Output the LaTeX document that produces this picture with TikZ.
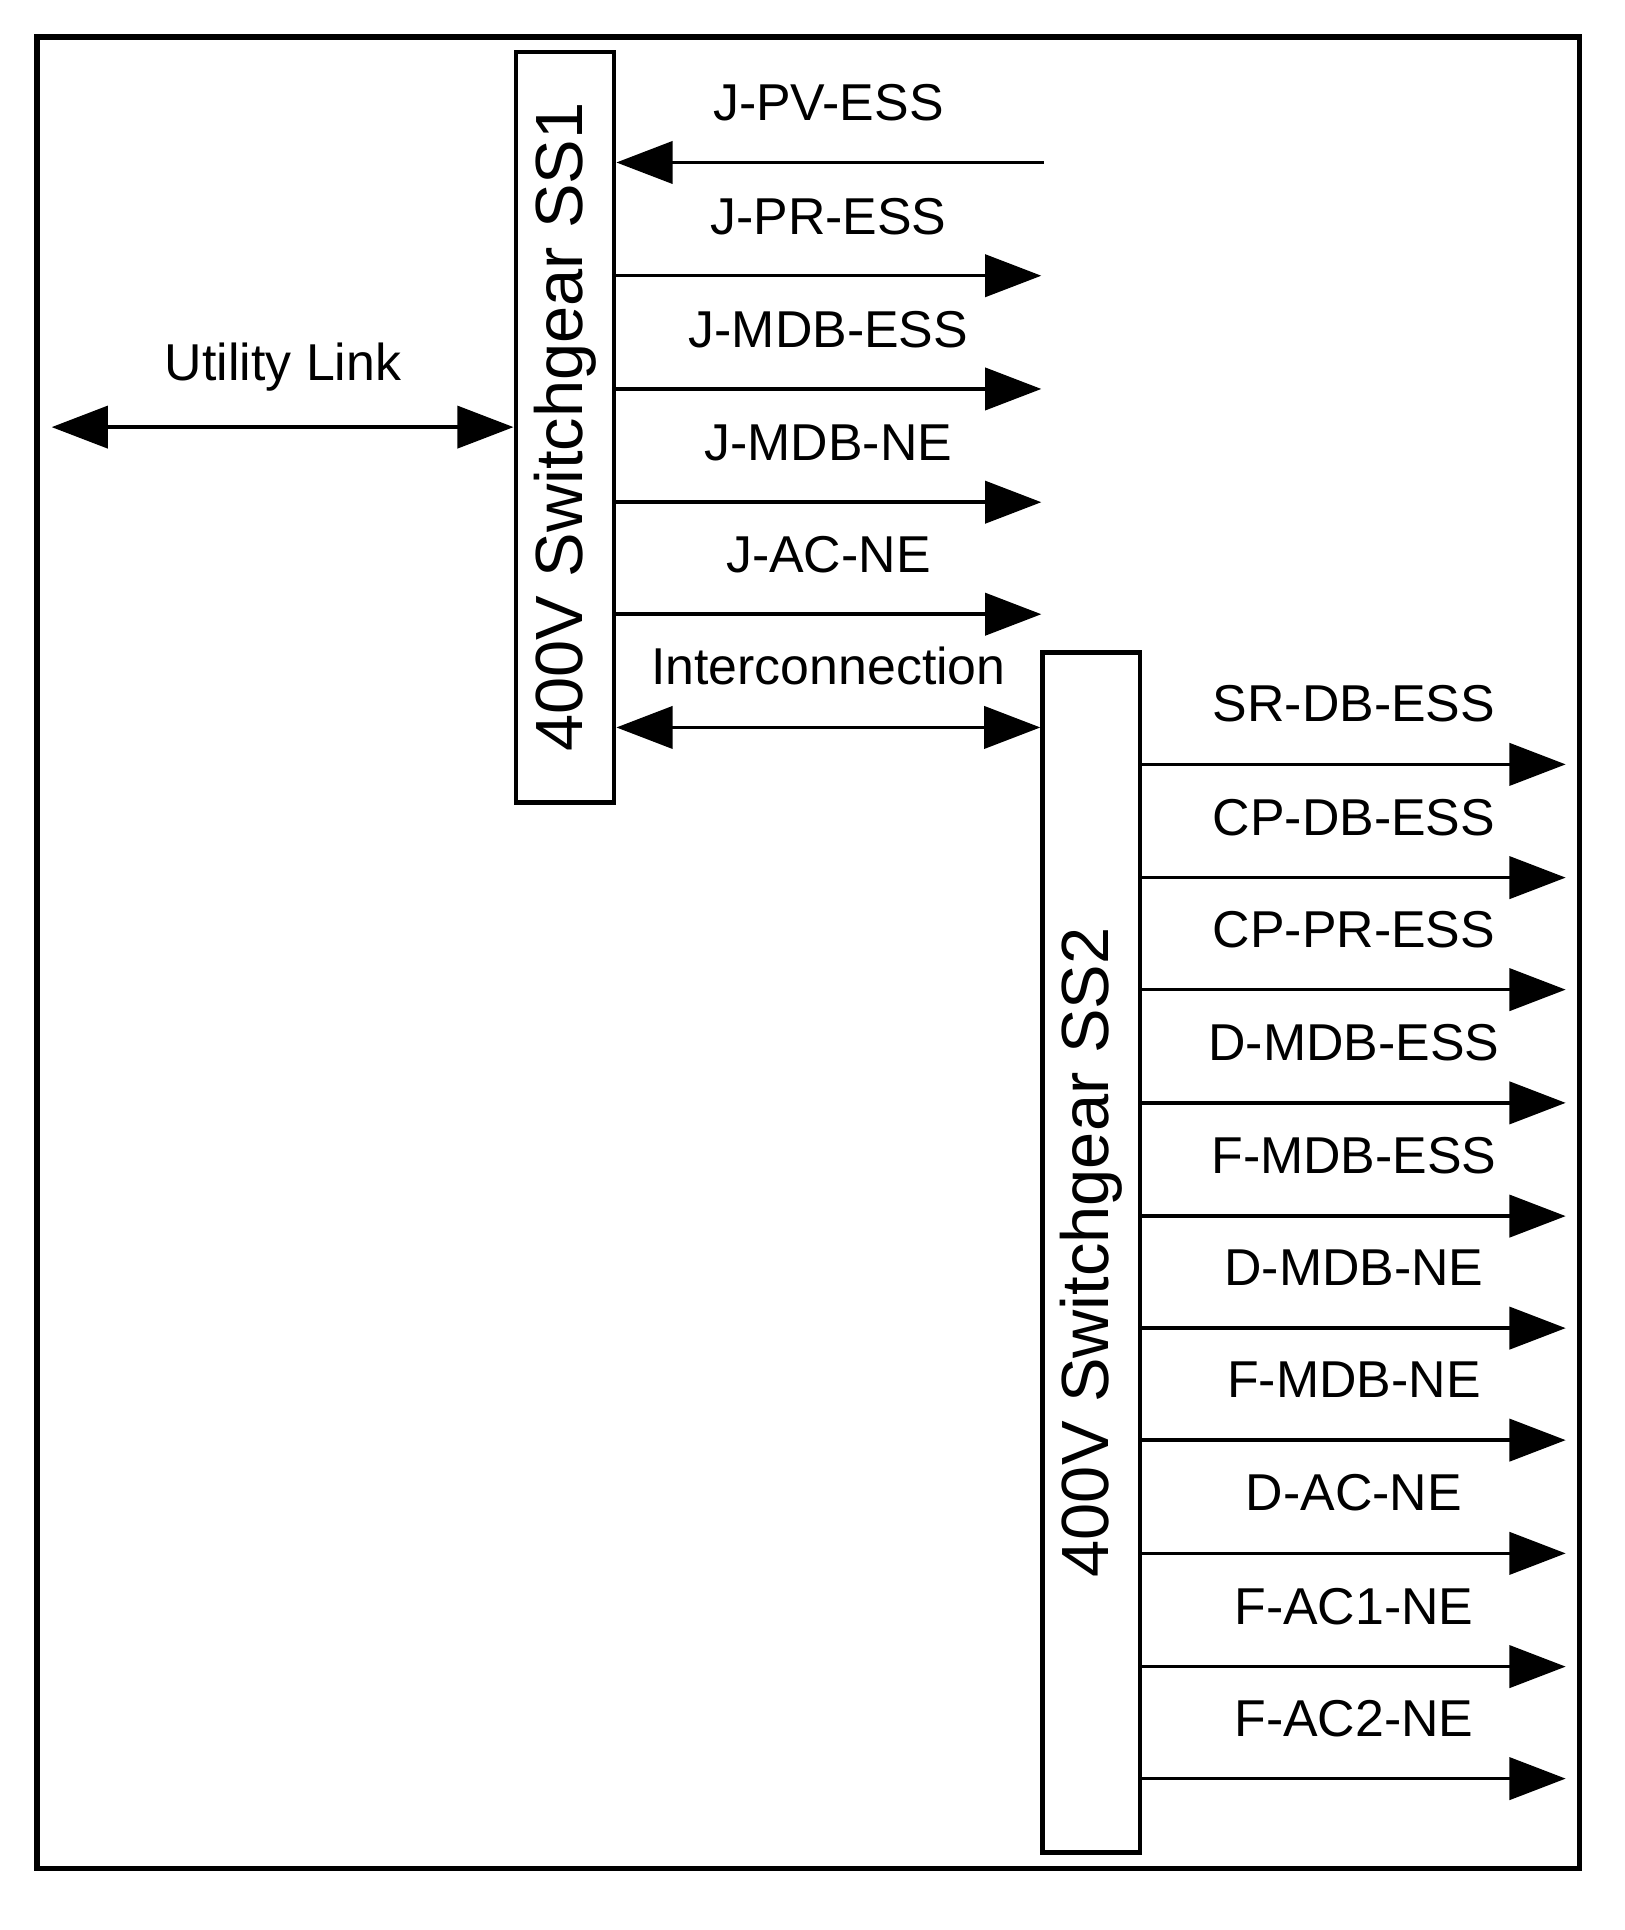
\documentclass[tikz,border=0pt]{standalone}
\usepackage{fontspec}
\setmainfont{Liberation Sans}
\usetikzlibrary{arrows.meta}
\begin{document}
\begin{tikzpicture}[x=0.02462cm,y=-0.02462cm,
  ar/.style={line width=2pt,-{Triangle[length=32pt,width=24pt]}},
  dar/.style={line width=2pt,{Triangle[length=32pt,width=24pt]}-{Triangle[length=32pt,width=24pt]}},
  lab/.style={font=\fontsize{29.5}{31}\selectfont},
  box/.style={draw,line width=2.5pt,inner sep=0pt}]
\useasboundingbox (0,0) rectangle (1320,1568);
\draw[line width=3pt] (30,30) rectangle (1283,1518);
\node[box,minimum width=80*0.02462cm,minimum height=610*0.02462cm] (ss1) at (459,347) {};
\node[rotate=90,font=\fontsize{38}{40}\selectfont] (t1) at (ss1) {400V Switchgear SS1};
\node[box,minimum width=79*0.02462cm,minimum height=975*0.02462cm] (ss2) at (886.5,1017.5) {};
\node[rotate=90,font=\fontsize{38}{40}\selectfont] (t2) at (ss2) {400V Switchgear SS2};
\coordinate (ul) at (42,347);
\draw[dar] (ul) -- (ss1.west |- ul);
\node[lab] (ull) at (230,298) {Utility Link};
\coordinate (pv) at (848,132);
\draw[ar] (pv) -- (ss1.east |- pv);
\node[lab] (pvl) at (673,83) {J-PV-ESS};
\foreach \y/\t [count=\i] in {224/J-PR-ESS,316/J-MDB-ESS,408/J-MDB-NE,499/J-AC-NE}{
  \coordinate (e\i) at (846,\y);
  \draw[ar] (ss1.east |- e\i) -- (e\i);
  \node[lab] (l\i) at (673,\y-48) {\t};
}
\coordinate (ic) at (ss1.east |- 0,591);
\draw[dar] (ic) -- (ss2.west |- ic);
\node[lab] (icl) at (673,541) {Interconnection};
\foreach \y/\t [count=\i] in {621/SR-DB-ESS,713/CP-DB-ESS,804/CP-PR-ESS,896/D-MDB-ESS,988/F-MDB-ESS,1079/D-MDB-NE,1170/F-MDB-NE,1262/D-AC-NE,1354/F-AC1-NE,1445/F-AC2-NE}{
  \coordinate (f\i) at (1272,\y);
  \draw[ar] (ss2.east |- f\i) -- (f\i);
  \node[lab] (m\i) at (1100,\y-49) {\t};
}
\end{tikzpicture}
\end{document}
